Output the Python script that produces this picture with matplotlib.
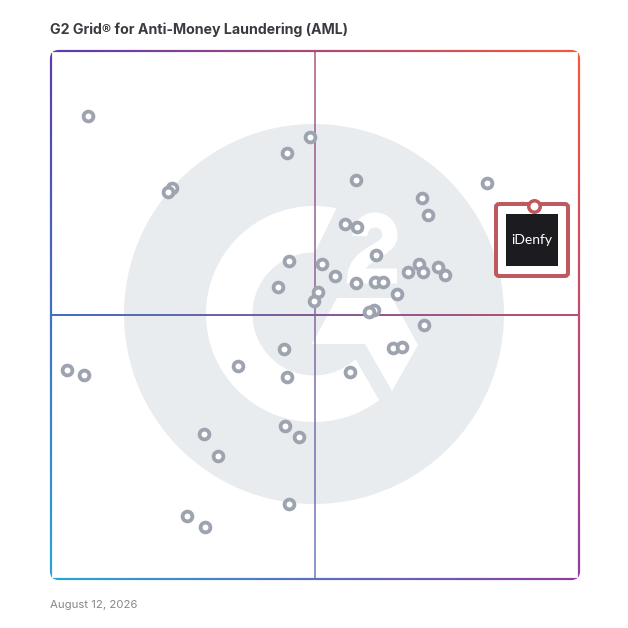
#!/usr/bin/python3

import matplotlib
matplotlib.use("Agg")
import matplotlib.pyplot as plt
import numpy as np
from matplotlib.patches import Circle, PathPatch, Polygon, Wedge
from matplotlib.path import Path
from matplotlib.transforms import Affine2D

TITLE = "G2 Grid® for Anti-Money Laundering (AML)"
FOOTER = "August 12, 2026"
SELECTED_NAME = "iDenfy"

# positions, in picture pixels
company_x = [88, 310, 287, 356, 487, 422, 428, 172, 168, 345, 357, 376, 289, 322, 335,
             278, 318, 314, 356, 375, 383, 397, 408, 419, 423, 438, 445, 374, 369, 424,
             393, 402, 284, 238, 287, 350, 67, 84, 285, 299, 204, 218, 289, 187, 205, 522]
company_y = [116, 137, 153, 180, 183, 198, 215, 188, 192, 224, 227, 255, 261, 264, 276,
             287, 292, 301, 283, 282, 282, 294, 272, 264, 272, 267, 275, 310, 312, 325,
             348, 347, 349, 366, 377, 372, 370, 375, 426, 437, 434, 456, 504, 516, 527, 208]
selected_x = [534]
selected_y = [206]

GRID_MIN, GRID_MAX, GRID_MID = 51, 579, 315
PX = 0.72  # one pixel in points at dpi 100

LOGO_GREY = "#e9ecef"
MARKER_GREY = "#9ea3b0"
SELECT_RED = "#bc5a5e"


def rounded_rect(x0, y0, x1, y1, r):
    k = [(x0 + r, y0), (x1 - r, y0), (x1, y0), (x1, y0 + r), (x1, y1 - r), (x1, y1),
         (x1 - r, y1), (x0 + r, y1), (x0, y1), (x0, y1 - r), (x0, y0 + r), (x0, y0), (x0 + r, y0)]
    c = [Path.MOVETO, Path.LINETO, Path.CURVE3, Path.CURVE3, Path.LINETO, Path.CURVE3, Path.CURVE3,
         Path.LINETO, Path.CURVE3, Path.CURVE3, Path.LINETO, Path.CURVE3, Path.CURVE3]
    return Path(k, c)


def ring_path(x0, y0, x1, y1, r, w):
    outer = rounded_rect(x0 - w / 2, y0 - w / 2, x1 + w / 2, y1 + w / 2, r + w / 2)
    inner = rounded_rect(x0 + w / 2, y0 + w / 2, x1 - w / 2, y1 - w / 2, r - w / 2)
    inner = Path(inner.vertices[::-1], [Path.MOVETO, Path.LINETO, Path.CURVE3, Path.CURVE3, Path.LINETO,
                                        Path.CURVE3, Path.CURVE3, Path.LINETO, Path.CURVE3, Path.CURVE3,
                                        Path.LINETO, Path.CURVE3, Path.CURVE3])
    return Path.make_compound_path(outer, inner)


def corner_gradient(n=200):
    tl, tr = np.array(matplotlib.colors.to_rgb("#5b3cb0")), np.array(matplotlib.colors.to_rgb("#f5593d"))
    bl, br = np.array(matplotlib.colors.to_rgb("#2aa5d5")), np.array(matplotlib.colors.to_rgb("#8e3da0"))
    u, v = np.meshgrid(np.linspace(0, 1, n), np.linspace(0, 1, n))
    u, v = u[..., None], v[..., None]
    return (1 - v) * ((1 - u) * tl + u * tr) + v * ((1 - u) * bl + u * br)


def draw_logo(ax):
    ax.add_patch(Circle((314, 314), 190, fc=LOGO_GREY, ec="none", zorder=1))
    ax.add_patch(Wedge((314, 314), 108, 0, 360, width=46.5, fc="white", ec="none", zorder=2))
    # gap of the G
    ax.add_patch(Polygon([(341, 199), (315, 252), (357, 362), (385, 410), (430, 400), (440, 314), (430, 210)],
                         fc=LOGO_GREY, ec="none", zorder=3))
    ax.add_patch(Polygon([(337, 298), (392, 298), (418, 345), (392, 391), (365, 344), (312, 344)],
                         fc="white", ec="none", zorder=4))
    two = Path([(360, 236), (360, 225), (368, 220), (375, 220), (384, 220), (390, 227), (390, 235),
                (390, 252), (357, 252), (355, 276), (397, 276)],
               [Path.MOVETO, Path.CURVE4, Path.CURVE4, Path.CURVE4, Path.CURVE4, Path.CURVE4, Path.CURVE4,
                Path.CURVE4, Path.CURVE4, Path.CURVE4, Path.LINETO])
    ax.add_patch(PathPatch(two, fc="none", ec="white", lw=15 * PX, capstyle="butt", joinstyle="miter", zorder=4))


def draw_grid_lines(ax):
    extent = (GRID_MIN, GRID_MAX, GRID_MAX, GRID_MIN)
    grad = corner_gradient()
    span = GRID_MAX - GRID_MIN
    vertical = Path.unit_rectangle().transformed(Affine2D().scale(2, span).translate(GRID_MID - 1, GRID_MIN))
    horizontal = Path.unit_rectangle().transformed(Affine2D().scale(span, 2).translate(GRID_MIN, GRID_MID - 1))

    im = ax.imshow(grad, extent=extent, aspect="auto", alpha=0.72, zorder=5, interpolation="bilinear")
    im.set_clip_path(PathPatch(vertical, transform=ax.transData))
    im = ax.imshow(grad, extent=extent, aspect="auto", zorder=5.5, interpolation="bilinear")
    im.set_clip_path(PathPatch(horizontal, transform=ax.transData))

    im = ax.imshow(grad, extent=(GRID_MIN - 2, GRID_MAX + 2, GRID_MAX + 2, GRID_MIN - 2), aspect="auto",
                   zorder=6, interpolation="bilinear")
    im.set_clip_path(PathPatch(ring_path(GRID_MIN, GRID_MIN, GRID_MAX, GRID_MAX, 8, 2.2), transform=ax.transData))


def draw_selected(ax):
    ax.add_patch(PathPatch(rounded_rect(496, 204, 568, 276, 3), fc="white", ec=SELECT_RED,
                           lw=4 * PX, zorder=8))
    ax.add_patch(PathPatch(rounded_rect(506, 214, 558, 266, 0.1), fc="#1b1b20", ec="none", zorder=9))
    ax.text(532, 240, SELECTED_NAME, color="white", fontsize=10, family="Lato",
            ha="center", va="center", zorder=10)
    ax.scatter(selected_x, selected_y, s=(11.5 * PX) ** 2, fc="white", ec=SELECT_RED,
               lw=3.5 * PX, zorder=11)


fig = plt.figure(figsize=(6.28, 6.28), dpi=100)
ax = fig.add_axes([0, 0, 1, 1])
ax.axis("off")

draw_logo(ax)
draw_grid_lines(ax)
ax.scatter(company_x, company_y, s=(9.8 * PX) ** 2, fc="white", ec=MARKER_GREY, lw=3.8 * PX, zorder=7)
draw_selected(ax)

ax.set_xlim(0, 628)
ax.set_ylim(628, 0)

ax.text(50, 30, TITLE, fontsize=10.2, family="Inter", weight="bold", color="#3a3b40", va="center")
ax.text(50, 605, FOOTER, fontsize=8.2, family="Inter", color="#85878e", va="center")

fig.savefig("out.png", dpi=100)
